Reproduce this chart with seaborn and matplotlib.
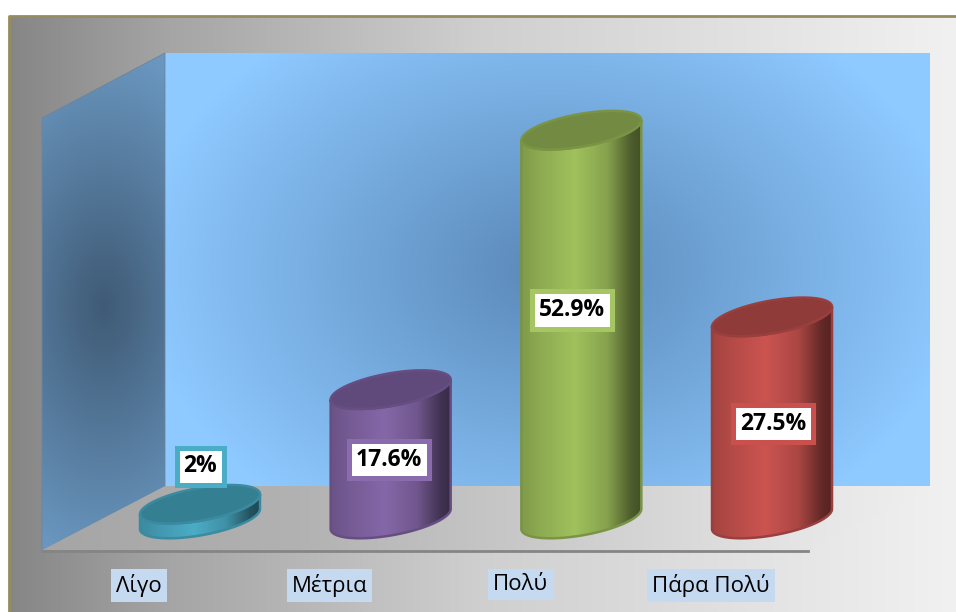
import numpy as np
import pandas as pd
import matplotlib
matplotlib.use("Agg")
import matplotlib.pyplot as plt
import seaborn as sns
from matplotlib.colors import LinearSegmentedColormap, to_rgb
from matplotlib.patches import Polygon
from matplotlib.transforms import ScaledTranslation

categories = ["Λίγο", "Μέτρια", "Πολύ", "Πάρα Πολύ"]
values = [2.0, 17.6, 52.9, 27.5]
value_labels = ["2%", "17.6%", "52.9%", "27.5%"]
bar_colors = ["#4bacc6", "#8567a8", "#a0c15c", "#cb5450"]
cap_colors = ["#357f93", "#604a7b", "#728a42", "#8e3b39"]
rim_colors = ["#3b8a9f", "#664e82", "#7a9446", "#993f3d"]
box_colors = ["#4bacc6", "#8a6bae", "#a5c663", "#c9504d"]

W, H = 956, 612
sns.set_theme(style="white")
plt.rcParams["font.family"] = ["Open Sans", "DejaVu Sans"]
fig = plt.figure(figsize=(W / 100, H / 100), dpi=100, facecolor="white")

# ---------- backdrop, in pixel coordinates ----------
bg = fig.add_axes([0, 0, 1, 1], zorder=0)
bg.set_xlim(0, W); bg.set_ylim(H, 0); bg.axis("off")
xx, yy = np.meshgrid(np.arange(W) + .5, np.arange(H) + .5)

def grey_img(stops_x, stops_v):
    g = np.interp(xx, stops_x, stops_v) / 255
    return np.dstack([g, g, g])

def radial(cx, cy, rx, ry, c0, c1):
    t = np.clip(np.hypot((xx - cx) / rx, (yy - cy) / ry), 0, 1)[..., None]
    return np.array(to_rgb(c0)) * (1 - t) + np.array(to_rgb(c1)) * t

def show(img, poly=None):
    im = bg.imshow(img, extent=(0, W, H, 0), aspect="auto", interpolation="bilinear")
    if poly is not None:
        p = Polygon(poly, closed=True, transform=bg.transData)
        im.set_clip_path(p)
    return im

frame = [(9, 16), (W, 16), (W, H), (9, H)]
show(grey_img([10, 170, 480, 956], [134, 165, 207, 241]), frame)
floor = [(42, 550), (165, 486), (930, 486), (808, 551)]
show(grey_img([42, 300, 800, 930], [165, 178, 229, 239]), floor)
back = [(165, 53), (930, 53), (930, 486), (165, 486)]
show(radial(550, 270, 410, 300, "#5a88b8", "#8ec9ff"), back)
left = [(42, 118), (165, 53), (165, 486), (42, 550)]
show(radial(104, 305, 150, 260, "#3f5a75", "#6a97c0"), left)
bg.plot([9, 9, W], [H, 16, 16], color="#968c5c", lw=2, solid_capstyle="butt")
bg.plot([42, 42, 165, 165], [550, 118, 53, 486], color="#6f8499", lw=0.6)
bg.set_xlim(0, W); bg.set_ylim(H, 0)

# ---------- chart axes ----------
LEFT_PX, BOTTOM_PX, TOP_PX = 42, 551, 53
BASE_PX = 519           # pixel row of value 0 (centre of the cylinder bases)
PX_PER_UNIT = 7.35
CAT0_PX = 200
CAT_STEP_PX = 190.67

ax = fig.add_axes([LEFT_PX / W, 1 - BOTTOM_PX / H, (W - LEFT_PX) / W, (BOTTOM_PX - TOP_PX) / H], zorder=1)
df = pd.DataFrame({"category": categories, "value": values})
sns.barplot(data=df, x="category", y="value", hue="category", palette=bar_colors,
            order=categories, hue_order=categories, dodge=False, legend=False,
            width=120 / CAT_STEP_PX, saturation=1, ax=ax)
x0 = (LEFT_PX - CAT0_PX) / CAT_STEP_PX
x1 = (W - CAT0_PX) / CAT_STEP_PX
y0 = (BASE_PX - BOTTOM_PX) / PX_PER_UNIT
y1 = (BASE_PX - TOP_PX) / PX_PER_UNIT
ax.patch.set_alpha(0)
ax.set_xlabel(""); ax.set_ylabel("")
ax.set_yticks([])
for s in ["top", "left", "right"]:
    ax.spines[s].set_visible(False)
ax.spines["bottom"].set_color("#858585")
ax.spines["bottom"].set_linewidth(2)
ax.spines["bottom"].set_bounds(x0, (808 - CAT0_PX) / CAT_STEP_PX)

# tick labels sit left of the cylinders in the reference
ax.set_xticks(range(len(categories)))
ax.set_xticklabels(categories)
ax.tick_params(axis="x", length=0, pad=16.5, labelsize=16, labelcolor="black")
shift = ScaledTranslation(-61 / 100, 0, fig.dpi_scale_trans)
for lab in ax.get_xticklabels():
    lab.set_transform(lab.get_transform() + shift)
    lab.set_bbox(dict(facecolor="#c5d9f1", edgecolor="none", boxstyle="square,pad=0.22"))

A_PX, SLOPE_PX, B_PX = 60.0, 10.0, 16.5
def arc(cat, val, t):
    dx = A_PX * np.cos(t)
    dy_px = -SLOPE_PX * np.cos(t) + B_PX * np.sin(t)
    return np.column_stack([cat + dx / CAT_STEP_PX, val - dy_px / PX_PER_UNIT])

def shade(hex_color, k):
    return tuple(np.array(to_rgb(hex_color)) * k)

lower = np.linspace(np.pi, 0, 80)
full = np.linspace(0, 2 * np.pi, 160)
for i, (bar, v) in enumerate(zip(ax.patches, values)):
    base_arc = arc(i, 0, lower)
    top_arc = arc(i, v, lower[::-1])
    body = np.vstack([base_arc, top_arc])
    bar.set_clip_path(Polygon(body, closed=True, transform=ax.transData))
    c = bar_colors[i]
    cmap = LinearSegmentedColormap.from_list(
        f"cyl{i}", [(0, shade(c, .80)), (.15, shade(c, .88)), (.45, shade(c, 1)),
                    (.72, shade(c, .84)), (.92, shade(c, .48)), (1, shade(c, .42))])
    ymin, ymax = body[:, 1].min(), body[:, 1].max()
    xa, xb = body[:, 0].min(), body[:, 0].max()
    im = ax.imshow(np.linspace(0, 1, 256)[None, :], cmap=cmap, aspect="auto",
                   extent=(xa, xb, ymin, ymax), zorder=2, interpolation="bilinear")
    im.set_clip_path(Polygon(body, closed=True, transform=ax.transData))
    ax.add_patch(Polygon(body, closed=True, fill=False, edgecolor=rim_colors[i], lw=1.8, zorder=3))
    ax.add_patch(Polygon(arc(i, v, full), closed=True, facecolor=cap_colors[i],
                         edgecolor=rim_colors[i], lw=1.8, zorder=4))

label_px = [(200.5, 463.5), (389, 456.5), (572, 307), (773, 420.5)]
for (px, py), txt, bc in zip(label_px, value_labels, box_colors):
    ax.text((px - CAT0_PX) / CAT_STEP_PX, (BASE_PX - py) / PX_PER_UNIT, txt, ha="center", va="center_baseline",
            fontsize=16.5, fontweight="bold", color="black", zorder=6,
            bbox=dict(facecolor="white", edgecolor=bc, linewidth=3.6, boxstyle="square,pad=0.3"))

ax.set_xlim(x0, x1)
ax.set_ylim(y0, y1)
fig.savefig("out.png", dpi=100, facecolor="white")
